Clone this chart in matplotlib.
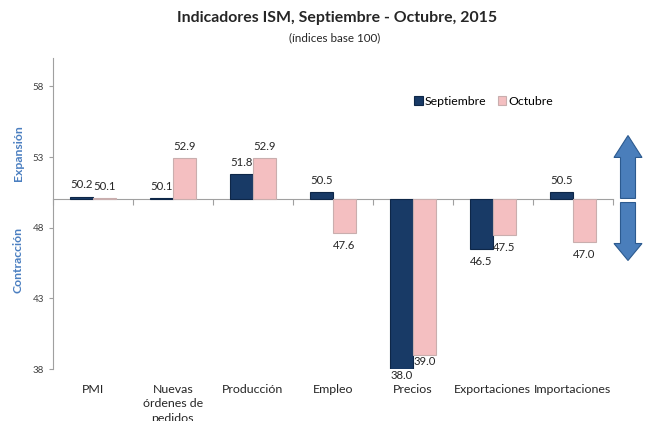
import numpy as np
import matplotlib
matplotlib.use("Agg")
import matplotlib.pyplot as plt
from matplotlib.patches import FancyArrow
from matplotlib.transforms import blended_transform_factory

plt.rcParams['font.family'] = ['Lato', 'DejaVu Sans']

# %% data
categories = ["PMI", "Nuevas\nórdenes de\npedidos", "Producción", "Empleo",
              "Precios", "Exportaciones", "Importaciones"]
septiembre = [50.2, 50.1, 51.8, 50.5, 38.0, 46.5, 50.5]
octubre = [50.1, 52.9, 52.9, 47.6, 39.0, 47.5, 47.0]
series_names = ["Septiembre", "Octubre"]
yticks = [38, 43, 48, 53, 58]
base = 50

# %% figure
fig = plt.figure(figsize=(6.45, 4.21), dpi=100)
ax = fig.add_axes([0.082, 0.1235, 0.868, 0.7385])

x = np.arange(len(categories))
w = 0.285
sep_col, sep_edge = "#183A66", "#0E2748"
oct_col, oct_edge = "#F4BFC1", "#C9AEAE"

sep_vals = np.array(septiembre) - base
oct_vals = np.array(octubre) - base
ax.bar(x - 0.145, sep_vals, w, bottom=base, color=sep_col, edgecolor=sep_edge,
       linewidth=0.8, label=series_names[0], zorder=3)
ax.bar(x + 0.145, oct_vals, w, bottom=base, color=oct_col, edgecolor=oct_edge,
       linewidth=0.8, label=series_names[1], zorder=3)

# value labels
for xs, vals in [(x - 0.145, septiembre), (x + 0.145, octubre)]:
    for xi, v in zip(xs, vals):
        if v >= base:
            off = 8.5
        elif v < 40:
            off = -4.8  # Precios: close to the axis bottom
        else:
            off = -9
        ax.annotate(f"{v:.1f}", (xi, v), xytext=(0, off), textcoords="offset points",
                    ha="center", va="center", fontsize=8.2, color="#262626",
                    annotation_clip=False, zorder=4)

ax.set_xlim(-0.5, len(categories) - 0.5)
ax.set_ylim(38, 60)
ax.set_yticks(yticks)
ax.tick_params(axis="y", labelsize=7, colors="#404040", length=3, width=0.8)
ax.tick_params(axis="y", color="#A0A0A0")

# x axis crossing at 50 with ticks between categories
ax.spines["bottom"].set_position(("data", base))
ax.spines["top"].set_visible(False)
ax.spines["right"].set_visible(False)
ax.spines["bottom"].set_color("#A0A0A0")
ax.spines["left"].set_color("#A0A0A0")
ax.set_xticks(np.arange(len(categories) + 1) - 0.5)
ax.set_xticklabels([])
ax.tick_params(axis="x", length=4, color="#A0A0A0", width=0.8)

# category labels below the plot
tr = blended_transform_factory(ax.transData, ax.transAxes)
for xi, c in zip(x, categories):
    ax.text(xi, -0.047, c, transform=tr, ha="center", va="top", fontsize=8.9,
            color="#262626", linespacing=1.4)

# side labels
fig.text(0.028, 0.636, "Expansión", rotation=90, ha="center", va="center",
         fontsize=8.8, fontweight="bold", color="#4A7EC0")
fig.text(0.028, 0.382, "Contracción", rotation=90, ha="center", va="center",
         fontsize=8.8, fontweight="bold", color="#4A7EC0")

# titles
fig.text(0.523, 0.957, "Indicadores ISM, Septiembre - Octubre, 2015", ha="center",
         va="center", fontsize=11.4, fontweight="bold", color="#262626")
fig.text(0.519, 0.911, "(índices base 100)", ha="center", va="center",
         fontsize=8.4, color="#262626")

# legend
ax.legend(loc="center", bbox_to_anchor=(0.75, 0.76), bbox_transform=fig.transFigure,
          ncol=2, frameon=False, fontsize=8.8, handlelength=0.7, handleheight=0.7,
          handletextpad=0.2, columnspacing=0.9)

# arrows expansion / contraction
atr = blended_transform_factory(fig.transFigure, ax.transData)
xc = 628 / 645
up = FancyArrow(xc, 50.07, 0, 4.45, width=15 / 645, head_width=28 / 645,
                head_length=1.55, length_includes_head=True, transform=atr,
                facecolor="#4A7EBB", edgecolor="#2C5A8F", linewidth=0.8, clip_on=False)
down = FancyArrow(xc, 49.78, 0, -4.1, width=15 / 645, head_width=28 / 645,
                  head_length=1.2, length_includes_head=True, transform=atr,
                  facecolor="#4A7EBB", edgecolor="#2C5A8F", linewidth=0.8, clip_on=False)
ax.add_patch(up)
ax.add_patch(down)

fig.savefig("out.png", dpi=100)
